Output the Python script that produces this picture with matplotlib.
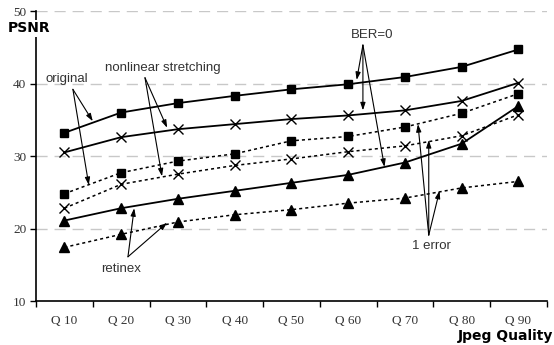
import matplotlib
matplotlib.use("Agg")
import matplotlib.pyplot as plt
import numpy as np

# data
quality = ['Q 10', 'Q 20', 'Q 30', 'Q 40', 'Q 50', 'Q 60', 'Q 70', 'Q 80', 'Q 90']
orig_ber0 = [33.2, 36.0, 37.3, 38.3, 39.2, 39.9, 40.9, 42.3, 44.7]
nonlin_ber0 = [30.5, 32.6, 33.7, 34.4, 35.1, 35.6, 36.3, 37.6, 40.1]
orig_err1 = [24.8, 27.7, 29.3, 30.3, 32.1, 32.7, 34.0, 35.9, 38.6]
nonlin_err1 = [22.8, 26.1, 27.5, 28.7, 29.6, 30.6, 31.4, 32.8, 35.7]
retinex_ber0 = [21.1, 22.8, 24.1, 25.2, 26.3, 27.4, 29.1, 31.7, 36.9]
retinex_err1 = [17.4, 19.2, 20.9, 21.9, 22.6, 23.5, 24.2, 25.6, 26.5]

fig = plt.figure(figsize=(5.54, 3.45), dpi=100)
ax = fig.add_axes([0.065, 0.1275, 0.922, 0.8405])

x = np.arange(1, len(quality) + 1)

# solid = BER=0, dotted = 1 error
ax.plot(x, orig_ber0, '-', color='black', lw=1.3, marker='s', ms=6, zorder=3)
ax.plot(x, nonlin_ber0, '-', color='black', lw=1.3, marker='x', ms=7, mew=1, zorder=3)
ax.plot(x, retinex_ber0, '-', color='black', lw=1.3, marker='^', ms=7, zorder=3)
ax.plot(x, orig_err1, color='black', lw=1.1, dashes=(2, 2), marker='s', ms=6, zorder=3)
ax.plot(x, nonlin_err1, color='black', lw=1.1, dashes=(2, 2), marker='x', ms=7, mew=1, zorder=3)
ax.plot(x, retinex_err1, color='black', lw=1.1, dashes=(2, 2), marker='^', ms=7, zorder=3)

ax.set_xlim(0.5, len(quality) + 0.5)
ax.set_ylim(10, 50)

# category axis: ticks between categories, labels at centres
ax.set_xticks(np.arange(0.5, len(quality) + 1, 1.0))
ax.set_xticklabels([])
ax.set_xticks(x, minor=True)
ax.set_xticklabels(quality, minor=True, family='Liberation Serif', fontsize=9.5, color='#333333')
ax.tick_params(axis='x', which='major', direction='out', length=4, width=1)
ax.tick_params(axis='x', which='minor', length=0, pad=10)

ax.set_yticks([10, 20, 30, 40, 50])
ax.set_yticklabels(['10', '20', '30', '40', '50'], family='Liberation Serif', fontsize=9.5, color='#333333')
ax.tick_params(axis='y', direction='out', length=4, width=1, pad=3)

for v in [20, 30, 40, 50]:
    ax.axhline(v, color='#c8c8c8', lw=1, dashes=(8, 5), zorder=1)

ax.spines['top'].set_visible(False)
ax.spines['right'].set_visible(False)
ax.spines['left'].set_linewidth(1.2)
ax.spines['bottom'].set_linewidth(1.2)

# axis titles
fig.text(0.014, 0.918, 'PSNR', fontsize=10, fontweight='bold', family='DejaVu Sans',
         ha='left', va='center', bbox=dict(facecolor='white', edgecolor='none', pad=1))
fig.text(0.998, 0.026, 'Jpeg Quality', fontsize=10, fontweight='bold', family='DejaVu Sans',
         ha='right', va='center')

# annotations with arrows
arrow = dict(arrowstyle='-|>,head_length=0.45,head_width=0.15', color='black', lw=0.8,
             shrinkA=0, shrinkB=0)
txt = dict(fontsize=9.5, family='Liberation Sans', color='#333333', ha='center', va='center')

def label(text, pos, tail, targets):
    ax.text(pos[0], pos[1], text, **txt)
    for t in targets:
        ax.annotate('', xy=t, xytext=tail, arrowprops=arrow)

label('original', (1.05, 40.6), (1.15, 39.2), [(1.50, 34.8), (1.43, 26.0)])
label('nonlinear stretching', (2.74, 42.1), (2.42, 40.8), [(2.81, 33.9), (2.72, 27.2)])
label('BER=0', (6.43, 46.7), (6.26, 45.3), [(6.15, 40.5), (6.26, 36.3), (6.64, 28.5)])
label('1 error', (7.47, 17.6), (7.42, 19.1), [(7.23, 34.4), (7.42, 32.2), (7.61, 25.2)])
label('retinex', (2.0, 14.4), (2.12, 16.1), [(2.23, 22.8), (2.81, 20.8)])

fig.savefig('out.png', dpi=100, facecolor='white')
